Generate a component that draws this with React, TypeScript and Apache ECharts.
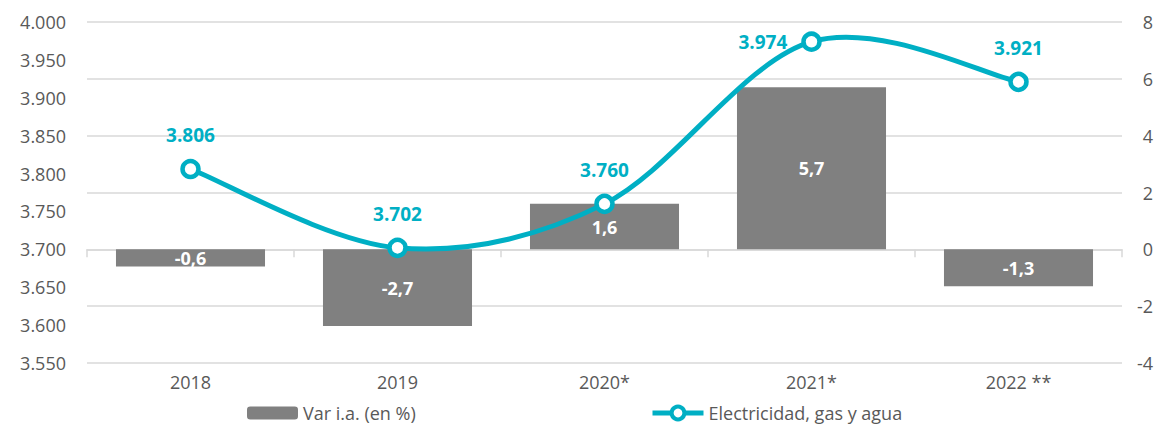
import React, { useEffect, useRef } from "react";
import * as echarts from "echarts";

const categories = ["2018", "2019", "2020*", "2021*", "2022 **"];
const varValues = [-0.6, -2.7, 1.6, 5.7, -1.3];
const lineValues = [3806, 3702, 3760, 3974, 3921];
const barName = "Var i.a. (en %)";
const lineName = "Electricidad, gas y agua";

const TEAL = "#00AFC4";
const GRAY_BAR = "#808080";
const TEXT = "#595959";
const FONT = "Open Sans";

const fmtThousands = (v: number) => (v / 1000).toFixed(3);
const fmtComma = (v: number) => v.toFixed(1).replace(".", ",");

export default function App() {
  const ref = useRef<HTMLDivElement>(null);
  useEffect(() => {
    if (!ref.current) return;
    const chart = echarts.init(ref.current, null, { renderer: "svg" });

    // Excel-like smooth curve (Catmull-Rom style Bezier segments) through the data points
    const renderCurve = (params: any, api: any) => {
      const i = params.dataIndex;
      const n = lineValues.length;
      if (i >= n - 1) return null;
      const P = (j: number) => {
        const k = Math.max(0, Math.min(n - 1, j));
        return api.coord([k, lineValues[k]]);
      };
      const p0 = P(i - 1);
      const p1 = P(i);
      const p2 = P(i + 1);
      const p3 = P(i + 2);
      const t = 1 / 6;
      return {
        type: "bezierCurve",
        shape: {
          x1: p1[0],
          y1: p1[1],
          cpx1: p1[0] + (p2[0] - p0[0]) * t,
          cpy1: p1[1] + (p2[1] - p0[1]) * t,
          cpx2: p2[0] - (p3[0] - p1[0]) * t,
          cpy2: p2[1] - (p3[1] - p1[1]) * t,
          x2: p2[0],
          y2: p2[1],
        },
        style: { stroke: TEAL, lineWidth: 5, fill: null, lineCap: "round" },
      };
    };

    chart.setOption({
      animation: false,
      textStyle: { fontFamily: FONT },
      grid: { left: 87, right: 38, top: 22, bottom: 62, containLabel: false },
      legend: [
        {
          data: [barName],
          left: 242,
          top: 399,
          itemWidth: 51,
          itemHeight: 13,
          itemGap: 5,
          textStyle: { color: TEXT, fontSize: 18, fontFamily: FONT },
        },
        {
          data: [lineName],
          left: 645,
          top: 399,
          itemWidth: 51,
          itemHeight: 16,
          itemGap: 5,
          lineStyle: { width: 5, color: TEAL, opacity: 1 },
          itemStyle: { color: "#ffffff", borderColor: TEAL, borderWidth: 4 },
          textStyle: { color: TEXT, fontSize: 18, fontFamily: FONT },
        },
      ],
      xAxis: [
        {
          type: "category",
          data: categories,
          position: "bottom",
          axisLine: { show: false },
          axisTick: { show: false },
          axisLabel: { color: TEXT, fontSize: 18, margin: 10, fontFamily: FONT },
        },
        {
          type: "category",
          data: categories,
          position: "top",
          axisLine: { show: true, onZero: true, onZeroAxisIndex: 1, lineStyle: { color: "#d9d9d9", width: 1.5 } },
          axisTick: { show: true, inside: true, length: 8, lineStyle: { color: "#d9d9d9", width: 1.5 } },
          axisLabel: { show: false },
        },
      ],
      yAxis: [
        {
          type: "value",
          min: 3550,
          max: 4000,
          interval: 50,
          position: "left",
          axisLine: { show: false },
          axisTick: { show: false },
          splitLine: { show: false },
          axisLabel: { color: TEXT, fontSize: 18, margin: 21, formatter: (v: number) => fmtThousands(v), fontFamily: FONT },
        },
        {
          type: "value",
          min: -4,
          max: 8,
          interval: 2,
          position: "right",
          axisLine: { show: false },
          axisTick: { show: false },
          splitLine: { show: true, lineStyle: { color: "#d9d9d9", width: 1.5 } },
          axisLabel: { color: TEXT, fontSize: 18, margin: 31, align: "right", fontFamily: FONT },
        },
      ],
      series: [
        {
          name: barName,
          type: "bar",
          xAxisIndex: 0,
          yAxisIndex: 1,
          data: varValues,
          barCategoryGap: "28%",
          itemStyle: { color: GRAY_BAR },
          label: {
            show: true,
            position: "inside",
            color: "#ffffff",
            fontWeight: "bold",
            fontSize: 18,
            fontFamily: FONT,
            formatter: (p: any) => fmtComma(p.value),
          },
          z: 2,
        },
        {
          name: "curve",
          type: "custom",
          xAxisIndex: 0,
          yAxisIndex: 0,
          data: lineValues.map((v, i) => [i, v]),
          renderItem: renderCurve,
          silent: true,
          z: 3,
        },
        {
          name: lineName,
          type: "line",
          xAxisIndex: 0,
          yAxisIndex: 0,
          data: lineValues.map((v, i) =>
            i === 3 ? { value: v, label: { position: "left", distance: 14 } } : v
          ),
          symbol: "circle",
          symbolSize: 16,
          lineStyle: { color: TEAL, width: 0, opacity: 0 },
          itemStyle: { color: "#ffffff", borderColor: TEAL, borderWidth: 4.5 },
          label: {
            show: true,
            position: "top",
            distance: 14,
            color: TEAL,
            fontWeight: "bold",
            fontSize: 19,
            fontFamily: FONT,
            formatter: (p: any) => fmtThousands(p.value),
          },
          z: 4,
        },
      ],
    });
    return () => chart.dispose();
  }, []);
  return (
    <div
      ref={ref}
      style={{ position: "fixed", left: 0, top: 0, width: 1160, height: 425, background: "#ffffff" }}
    />
  );
}
